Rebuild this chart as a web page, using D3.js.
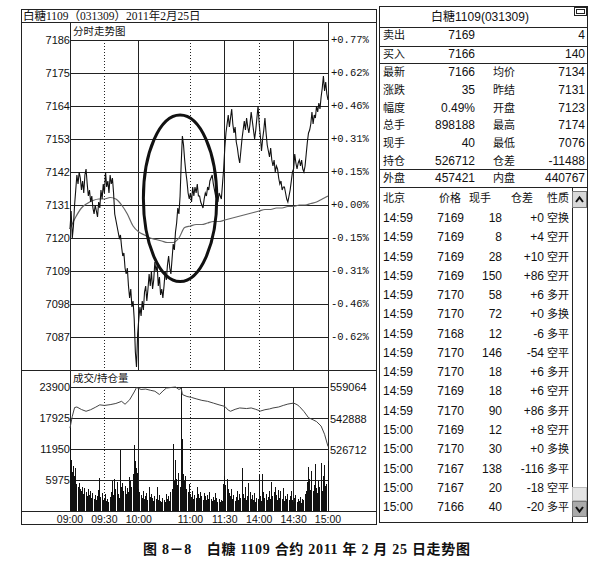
<!DOCTYPE html>
<html><head><meta charset="utf-8">
<script src="https://cdn.jsdelivr.net/npm/d3@7"></script>
<style>body{margin:0;background:#fff}svg{display:block}</style>
</head><body><svg id="c" width="604" height="576"></svg>
<script>
// ---------- DATA ----------
const titleText = "白糖1109（031309）2011年2月25日";
const timeTicks = [0, 30, 60, 105, 135, 165, 195, 225];
const timeLabels = ["09:00", "09:30", "10:00", "11:00", "11:30", "14:00", "14:30", "15:00"];
const dottedTicks = [30, 105, 165];
const solidTicks = [60, 135, 195];
const priceTicks = [7186, 7175, 7164, 7153, 7142, 7131, 7120, 7109, 7098, 7087];
const pctLabels = ["+0.77%", "+0.62%", "+0.46%", "+0.31%", "+0.15%", "+0.00%", "-0.15%", "-0.31%", "-0.46%", "-0.62%"];
const volTicks = [23900, 17925, 11950, 5975];
const oiTicks = [559064, 542888, 526712];

// minute-by-minute last price (trading minutes from 09:00)
const price = [
7123,7129,7120,7124,7131,7136,7141,7138,7142,7140,
7136,7139,7135,7141,7143,7138,7134,7136,7132,7134,
7130,7128,7131,7129,7127,7132,7130,7136,7133,7138,
7135,7142,7137,7139,7135,7141,7138,7140,7135,7128,
7126,7124,7122,7120,7121,7117,7114,7115,7110,7108,
7110,7104,7100,7103,7097,7099,7093,7082,7077,7088,
7093,7097,7094,7099,7096,7102,7104,7099,7103,7108,
7104,7109,7103,7106,7112,7109,7111,7104,7107,7101,
7103,7100,7104,7109,7106,7111,7114,7110,7108,7113,
7118,7116,7122,7125,7130,7128,7134,7145,7154,7151,
7146,7142,7139,7135,7133,7135,7132,7137,7134,7137,
7135,7138,7134,7134,7132,7131,7130,7133,7135,7134,
7137,7136,7139,7140,7141,7138,7136,7134,7133,7132,
7135,7134,7133,7138,7143,7150,7155,7158,7161,7157,
7160,7163,7158,7155,7157,7152,7150,7147,7145,7149,
7153,7156,7159,7156,7160,7157,7155,7158,7162,7159,
7156,7153,7156,7160,7164,7158,7154,7149,7153,7156,
7160,7155,7151,7149,7147,7150,7146,7144,7146,7142,
7144,7143,7140,7138,7139,7136,7137,7137,7135,7133,
7132,7134,7136,7139,7142,7143,7148,7145,7143,7145,
7146,7144,7146,7143,7142,7144,7148,7152,7155,7156,
7158,7162,7158,7161,7160,7164,7162,7165,7163,7167,
7170,7174,7169,7172,7168,7166];

// average price, sampled every 5 minutes
const avgMin = [0,5,10,15,20,25,30,35,40,45,50,55,60,65,70,75,80,85,90,95,100,105,110,115,120,125,130,135,140,145,150,155,160,165,170,175,180,185,190,195,200,205,210,215,220,225];
const avgPrice = [7123,7127,7130,7131.5,7132.5,7133,7133,7133.5,7133,7131,7128,7124,7122,7121,7120,7119.5,7119,7118.5,7118.5,7120,7123.5,7124,7124.5,7124.5,7125,7125.5,7125.5,7126,7126.5,7127,7127.5,7128,7128.5,7129,7129.5,7129.5,7130,7130,7130.5,7130.5,7131,7131,7131.5,7132,7133,7134];

// per-minute volume
const volume = [
16500,9800,7600,8600,6800,8200,5200,4600,5400,4200,
3800,4700,3300,4500,3600,2800,4300,3100,3900,2600,
3500,2400,3000,2200,2900,4100,6300,2700,3400,2100,
2500,3300,1900,2400,1800,2700,3600,5800,3000,6100,
4300,5600,3200,2500,11800,4700,5400,3800,4900,3300,
4400,3700,6500,5800,4600,7200,12700,9600,8300,7400,
4200,3600,3100,2600,3900,2300,2900,3500,2100,4600,
2700,3300,2500,1900,2800,2400,4700,2200,3000,2000,
1800,2600,2200,1700,3200,2400,2900,1900,3700,4300,
12900,5800,9900,6200,5100,7400,4600,23900,13900,7100,
5900,6800,4200,3600,5200,3300,2700,3900,2400,3100,
2600,4600,3300,2500,3700,2900,2200,3500,2800,2100,
3000,2400,3600,2300,1900,2700,2100,3400,2500,1800,
2400,1700,2200,1900,5300,6700,5100,6100,4200,3500,
2900,4300,2400,3100,2000,2700,3800,2200,3300,2600,
8300,3200,2500,4600,2100,2900,5400,3700,2300,3000,
2200,3400,1800,2600,2300,6900,2800,2000,7100,3600,
2500,3200,2100,2700,3900,2400,5500,2900,3700,4600,
3100,2200,4100,2600,3800,2300,4400,1900,2900,2400,
3300,2100,2800,3900,2200,1700,2500,3100,1800,2300,
2000,2700,1600,2400,2100,3300,3800,5600,8400,6200,
4100,7800,3900,5100,9100,4400,3500,5800,4700,9300,
3900,6700,8800,4800,5300,9600];

// open interest
const oiMin = [0,2,4,6,10,14,18,22,26,30,35,40,45,48,52,56,58,62,66,70,74,78,81,84,88,92,95,97,98,102,106,110,115,120,125,130,135,138,140,144,148,154,158,162,166,170,174,177,182,186,190,195,198,200,204,208,212,215,219,222,225];
const oiVal = [538000,544000,548500,548800,547500,546600,547400,548600,549900,549600,550000,550600,551700,550200,552500,556500,558800,557800,558000,557400,556900,555200,557000,558500,558800,559064,557800,558400,555200,554200,553700,553000,552200,551700,550800,549900,549100,547200,546600,547600,548300,548000,548300,547600,546700,547400,547800,548300,548800,549600,550300,550800,550000,549100,546500,543300,542200,541300,539000,534800,528500];

// highlighted region (annotation ellipse): minutes and prices
const noteSpan = {tFrom: 64, tTo: 128, pHigh: 7161, pLow: 7105.5};

// quote panel
const quoteTitle = "白糖1109(031309)";
const askRow = ["卖出", "7169", "", "4"];
const bidRow = ["买入", "7166", "", "140"];
const statRows = [
  ["最新", "7166", "均价", "7134"],
  ["涨跌", "35", "昨结", "7131"],
  ["幅度", "0.49%", "开盘", "7123"],
  ["总手", "898188", "最高", "7174"],
  ["现手", "40", "最低", "7076"],
  ["持仓", "526712", "仓差", "-11488"]];
const sideRow = ["外盘", "457421", "内盘", "440767"];
const tradeHeader = ["北京", "价格", "现手", "仓差", "性质"];
const tradeTime = ["14:59","14:59","14:59","14:59","14:59","14:59","14:59","14:59","14:59","14:59","14:59","15:00","15:00","15:00","15:00","15:00"];
const tradePrice = [7169,7169,7169,7169,7170,7170,7168,7170,7170,7169,7170,7169,7170,7167,7167,7166];
const tradeQty = [18,8,28,150,58,72,12,146,18,18,90,12,30,138,20,40];
const tradeOiChg = ["+0","+4","+10","+86","+6","+0","-6","-54","+6","+6","+86","+8","+0","-116","-18","-20"];
const tradeType = ["空换","空开","空开","空开","多开","多换","多平","空平","多开","空开","多开","空开","多换","多平","空平","多平"];
const caption = "图 8－8　白糖 1109 合约 2011 年 2 月 25 日走势图";

// ---------- DRAW ----------
const svg = d3.select("#c");
const ink = "#222";
const SANS = "'Liberation Sans', Arial, 'Noto Sans CJK SC', sans-serif";
const MONO = "'Liberation Mono', 'DejaVu Sans Mono', monospace";
const SERIF = "'Liberation Serif', 'Noto Sans CJK SC', serif";

const x = d3.scaleLinear().domain([0, 225]).range([70, 328]);
const py = d3.scaleLinear().domain([7076, 7186]).range([370, 40]);
const vy = d3.scaleLinear().domain([0, 23900]).range([511, 387]);
const oy = d3.scaleLinear().domain([526712, 559064]).range([450, 387]);

function hline(g, x1, x2, y, opt = {}) {
  g.append("line").attr("x1", x1).attr("x2", x2).attr("y1", y).attr("y2", y)
    .attr("stroke", opt.c || ink).attr("stroke-width", opt.w || 1)
    .attr("stroke-dasharray", opt.dash || null).attr("shape-rendering", "crispEdges");
}
function vline(g, xx, y1, y2, opt = {}) {
  g.append("line").attr("x1", xx).attr("x2", xx).attr("y1", y1).attr("y2", y2)
    .attr("stroke", opt.c || ink).attr("stroke-width", opt.w || 1)
    .attr("stroke-dasharray", opt.dash || null).attr("shape-rendering", "crispEdges");
}
function txt(g, s, xx, yy, opt = {}) {
  return g.append("text").attr("x", xx).attr("y", yy).text(s)
    .attr("font-family", opt.f || SANS).attr("font-size", opt.s || 11)
    .attr("text-anchor", opt.a || "start").attr("dominant-baseline", "central")
    .attr("font-weight", opt.b ? "bold" : null).attr("fill", opt.c || "#111");
}

const left = svg.append("g");
// frame
left.append("rect").attr("x", 21.5).attr("y", 9.5).attr("width", 355).attr("height", 515)
  .attr("fill", "none").attr("stroke", ink).attr("shape-rendering", "crispEdges");
hline(left, 21, 377, 22);
vline(left, 70, 22, 511);
vline(left, 328, 22, 511);
hline(left, 21, 377, 370);
hline(left, 21, 377, 511);
txt(left, titleText, 23, 15.5, {f: SERIF, s: 11.5});
txt(left, "分时走势图", 73, 31, {s: 10.5});
txt(left, "成交/持仓量", 73, 378, {s: 10.5});

// price grid
priceTicks.forEach((p, i) => {
  hline(left, 70, 328, py(p));
  txt(left, p, 70, py(p), {a: "end", s: 11});
  txt(left, pctLabels[i], 331, py(p), {f: MONO, s: 10.5});
});
// vertical grid
dottedTicks.forEach(t => {
  vline(left, x(t), py(7186), 370, {dash: "1,2"});
  vline(left, x(t), vy(23900), 511, {dash: "1,2"});
});
solidTicks.forEach(t => {
  vline(left, x(t), py(7186), 370);
  vline(left, x(t), vy(23900), 511);
});
// volume grid
volTicks.forEach(v => {
  hline(left, 70, 328, vy(v));
  txt(left, v, 70, vy(v), {a: "end", s: 11});
});
oiTicks.forEach(v => txt(left, v, 330, oy(v), {s: 11}));
timeLabels.forEach((s, i) => txt(left, s, x(timeTicks[i]), 518.5, {a: "middle", s: 10.5}));

// volume bars
left.append("g").selectAll("rect").data(volume).join("rect")
  .attr("x", (d, i) => Math.floor(x(i)))
  .attr("width", 1)
  .attr("y", d => vy(d))
  .attr("height", d => vy(0) - vy(d))
  .attr("fill", "#111").attr("shape-rendering", "crispEdges");

// open interest line
left.append("path").datum(oiMin.map((t, i) => [t, oiVal[i]]))
  .attr("d", d3.line().x(d => x(d[0])).y(d => oy(d[1])))
  .attr("fill", "none").attr("stroke", "#444").attr("stroke-width", 1);

// average price line
left.append("path").datum(avgMin.map((t, i) => [t, avgPrice[i]]))
  .attr("d", d3.line().x(d => x(d[0])).y(d => py(d[1])).curve(d3.curveMonotoneX))
  .attr("fill", "none").attr("stroke", "#666").attr("stroke-width", 1.2);

// price line
left.append("path").datum(price)
  .attr("d", d3.line().x((d, i) => x(i)).y(d => py(d)))
  .attr("fill", "none").attr("stroke", "#111").attr("stroke-width", 1.1);

// annotation ellipse
left.append("ellipse")
  .attr("cx", (x(noteSpan.tFrom) + x(noteSpan.tTo)) / 2)
  .attr("cy", (py(noteSpan.pHigh) + py(noteSpan.pLow)) / 2)
  .attr("rx", (x(noteSpan.tTo) - x(noteSpan.tFrom)) / 2)
  .attr("ry", (py(noteSpan.pLow) - py(noteSpan.pHigh)) / 2)
  .attr("fill", "none").attr("stroke", "#111").attr("stroke-width", 3);

// ---------- right quote panel ----------
const R = svg.append("g");
R.append("rect").attr("x", 379.5).attr("y", 6.5).attr("width", 208).attr("height", 516)
  .attr("fill", "none").attr("stroke", ink).attr("shape-rendering", "crispEdges");
[27, 46, 63, 169, 187].forEach(yy => hline(R, 379, 588, yy));
txt(R, quoteTitle, 480, 16.5, {a: "middle", s: 12});
// small window icon
R.append("rect").attr("x", 574.5).attr("y", 7.5).attr("width", 12).attr("height", 8)
  .attr("fill", "#fff").attr("stroke", ink).attr("shape-rendering", "crispEdges");
R.append("rect").attr("x", 576.5).attr("y", 9.5).attr("width", 8).attr("height", 4)
  .attr("fill", "none").attr("stroke", ink).attr("shape-rendering", "crispEdges");

function quoteRow(row, yy) {
  txt(R, row[0], 383, yy, {s: 11});
  txt(R, row[1], 475, yy, {a: "end", s: 12});
  if (row[2]) txt(R, row[2], 493, yy, {s: 11});
  txt(R, row[3], 585, yy, {a: "end", s: 12});
}
quoteRow(askRow, 35);
quoteRow(bidRow, 54);
statRows.forEach((r, i) => quoteRow(r, 72 + i * 17.8));
quoteRow(sideRow, 178);

// trade table
const hdrY = 198, rowY0 = 218, pitch = 19.27;
txt(R, tradeHeader[0], 383, hdrY, {s: 11});
txt(R, tradeHeader[1], 461, hdrY, {a: "end", s: 11});
txt(R, tradeHeader[2], 491, hdrY, {a: "end", s: 11});
txt(R, tradeHeader[3], 533, hdrY, {a: "end", s: 11});
txt(R, tradeHeader[4], 547, hdrY, {s: 11});
tradeTime.forEach((t, i) => {
  const yy = rowY0 + i * pitch;
  txt(R, t, 383, yy, {s: 12});
  txt(R, tradePrice[i], 464, yy, {a: "end", s: 12});
  txt(R, tradeQty[i], 502, yy, {a: "end", s: 12});
  txt(R, tradeOiChg[i], 544, yy, {a: "end", s: 12});
  txt(R, tradeType[i], 547, yy, {s: 11});
});
// scrollbar
vline(R, 572, 187, 523);
R.append("rect").attr("x", 572.5).attr("y", 191.5).attr("width", 14).attr("height", 16)
  .attr("fill", "#d8d8d8").attr("stroke", "#777").attr("shape-rendering", "crispEdges");
R.append("path").attr("d", "M576,202 L579.5,197.5 L583,202").attr("fill", "none").attr("stroke", "#111").attr("stroke-width", 2);
R.append("rect").attr("x", 572.5).attr("y", 487.5).attr("width", 14).attr("height", 13)
  .attr("fill", "#e4e4e4").attr("stroke", "#bbb").attr("shape-rendering", "crispEdges");
R.append("rect").attr("x", 572.5).attr("y", 501.5).attr("width", 14).attr("height", 15)
  .attr("fill", "#aaa").attr("stroke", "#777").attr("shape-rendering", "crispEdges");
R.append("path").attr("d", "M576,507 L579.5,511.5 L583,507").attr("fill", "none").attr("stroke", "#111").attr("stroke-width", 2);

// caption
svg.append("text").attr("x", 143).attr("y", 549).text(caption)
  .attr("font-family", SERIF).attr("font-size", 14).attr("font-weight", "bold")
  .attr("dominant-baseline", "central").attr("textLength", 327).attr("lengthAdjust", "spacing")
  .attr("fill", "#111");
</script>
</body></html>
